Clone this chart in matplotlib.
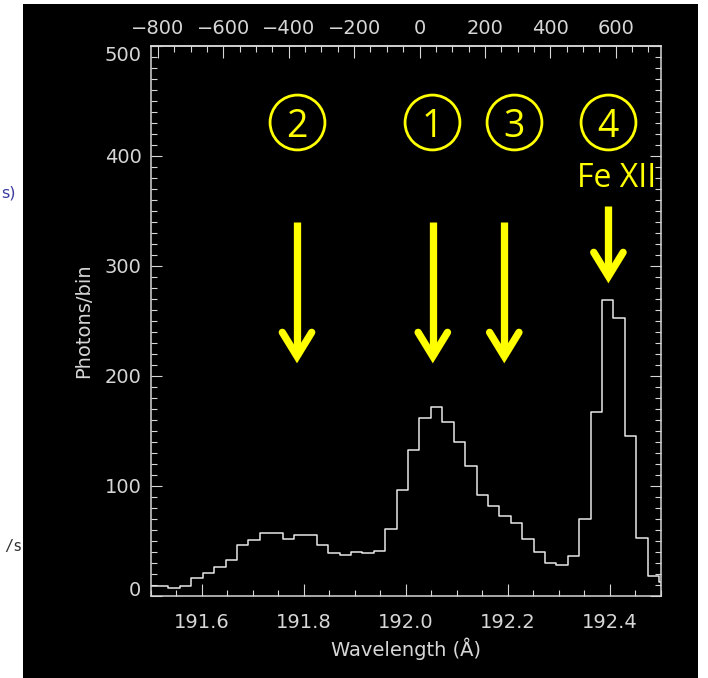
import matplotlib
matplotlib.use("Agg")
import matplotlib.pyplot as plt
import matplotlib.transforms as mtransforms
from matplotlib.patches import Rectangle
from matplotlib.ticker import MultipleLocator
import numpy as np

# EIS spectrum around Fe XII 192.39 A: bin centres (A) and photon counts per bin
wavelength = [191.5017, 191.5240, 191.5464, 191.5687, 191.5911, 191.6134, 191.6358,
              191.6581, 191.6805, 191.7028, 191.7252, 191.7475, 191.7699, 191.7922,
              191.8146, 191.8369, 191.8593, 191.8816, 191.9040, 191.9263, 191.9487,
              191.9710, 191.9934, 192.0157, 192.0381, 192.0604, 192.0828, 192.1051,
              192.1274, 192.1498, 192.1721, 192.1945, 192.2168, 192.2392, 192.2615,
              192.2839, 192.3062, 192.3286, 192.3509, 192.3733, 192.3956, 192.4180,
              192.4403, 192.4627, 192.4850, 192.5074]
photons = [9.5, 9.5, 7.5, 9, 16, 21, 26, 33, 46, 51, 57, 57, 52, 55, 55, 46,
           39, 37, 40, 39, 41, 61, 96, 133, 161.5, 171.5, 158, 140, 118, 92,
           82, 72.7, 66.7, 51.5, 40, 30, 28, 36, 70, 167.5, 268.5, 253, 145,
           53, 18.5, 13]

# Velocity scale on the top axis
LAMBDA0 = 192.027
C_KMS = 299792.458

# Component markers
comp_names = ["2", "1", "3", "4"]
comp_label_wl = [191.786, 192.051, 192.213, 192.396]
comp_label_y = 430.6
arrow_wl = [191.787, 192.053, 192.193, 192.397]
arrow_top = [339.8, 339.8, 339.8, 354.4]
arrow_tip = [211.4, 211.4, 211.4, 284.1]
ion_label = "Fe XII"
ion_label_pos = (192.413, 371.6)

x_ticks = [191.6, 191.8, 192.0, 192.2, 192.4]
x_ticklabels = ["191.6", "191.8", "192.0", "192.2", "192.4"]
y_ticks = [0, 100, 200, 300, 400, 500]

FG = "#d6d6d6"
YEL = "#ffff00"
W, H = 708, 678
DPI = 100

fig = plt.figure(figsize=(W / DPI, H / DPI), dpi=DPI, facecolor="white")
fig.add_artist(Rectangle((23 / W, 0), (698 - 23) / W, (678 - 4) / H,
                         transform=fig.transFigure, fc="black", ec="none", zorder=-5))
fig.text(1 / W, 1 - 193 / H, "s)", ha="left", va="center", color="#3a3aa0",
         fontsize=11.5, family="DejaVu Sans")
fig.text(4 / W, 1 - 547 / H, "/s", ha="left", va="center", color="#333333",
         fontsize=11, family="DejaVu Sans Mono")

ax = fig.add_axes([150.5 / W, 1 - 596 / H, (661 - 150.5) / W, (596 - 45.7) / H])
ax.set_facecolor("black")
ax.set_xlim(191.5, 192.5)
ax.set_ylim(0, 500)

ax.step(wavelength, photons, where="mid", color="#e8e8e8", lw=1.1)

for sp in ax.spines.values():
    sp.set_color(FG)
    sp.set_linewidth(1.1)

tick_font = dict(family="DejaVu Sans", size=14)
ax.set_xticks(x_ticks)
ax.set_xticklabels(x_ticklabels, color=FG, **tick_font)
ax.xaxis.set_minor_locator(MultipleLocator(0.05))
ax.set_yticks(y_ticks)
ax.set_yticklabels([str(v) for v in y_ticks], color=FG, **tick_font)
ax.yaxis.set_minor_locator(MultipleLocator(10))

ax.tick_params(axis="x", which="both", direction="in", top=False, bottom=True,
               colors=FG, width=0.8)
ax.tick_params(axis="x", which="major", length=8.6, pad=12)
ax.tick_params(axis="x", which="minor", length=4.3)
ax.tick_params(axis="y", which="both", direction="in", left=True, right=True,
               colors=FG, width=0.8)
ax.tick_params(axis="y", which="major", length=8.0, pad=6.5)
ax.tick_params(axis="y", which="minor", length=4.3)

ax.set_xlabel("Wavelength (Å)", color=FG, fontsize=14, family="DejaVu Sans", labelpad=4)
ax.set_ylabel("Photons/bin", color=FG, fontsize=14, family="DejaVu Sans", labelpad=8)


def wl_to_v(w):
    return (np.asarray(w) - LAMBDA0) / LAMBDA0 * C_KMS


def v_to_wl(v):
    return LAMBDA0 * (1 + np.asarray(v) / C_KMS)


sec = ax.secondary_xaxis("top", functions=(wl_to_v, v_to_wl))
sec.xaxis.set_major_locator(MultipleLocator(200))
sec.xaxis.set_minor_locator(MultipleLocator(50))
sec.tick_params(which="both", direction="in", colors=FG, width=0.8, labelsize=14)
sec.tick_params(which="major", length=8.6, pad=5.5)
sec.tick_params(which="minor", length=4.3)
for lab in sec.get_xticklabels():
    lab.set_family("DejaVu Sans")
sec.spines["top"].set_color(FG)
sec.spines["top"].set_linewidth(1.1)

# IDL-style: end labels of the y axis pulled inside the frame
yt = ax.yaxis.get_major_ticks()
yt[0].label1.set_transform(yt[0].label1.get_transform() +
                           mtransforms.ScaledTranslation(0, 7 / DPI, fig.dpi_scale_trans))
yt[-1].label1.set_transform(yt[-1].label1.get_transform() +
                            mtransforms.ScaledTranslation(0, -8 / DPI, fig.dpi_scale_trans))

# Circled component numbers
ax.plot(comp_label_wl, [comp_label_y] * len(comp_label_wl), "o", ms=39.5,
        mfc="none", mec=YEL, mew=2.0, clip_on=False, zorder=5)
digit_tr = mtransforms.offset_copy(ax.transData, fig=fig, x=0, y=-14.5, units="dots")
for name, wl in zip(comp_names, comp_label_wl):
    ax.text(wl, comp_label_y, name, transform=digit_tr, ha="center", va="baseline",
            color=YEL, fontsize=27, family="Open Sans", clip_on=False, zorder=6)

ax.text(ion_label_pos[0], ion_label_pos[1], ion_label, ha="center", va="baseline",
        color=YEL, fontsize=23, family="Open Sans", clip_on=False, zorder=6)

# Arrows: shaft plus a chevron head, built in pixel space
to_disp = ax.transData
to_data = ax.transData.inverted()
lw_arrow = 7.3 * 72 / DPI
for wl, top, tip in zip(arrow_wl, arrow_top, arrow_tip):
    tx, ty = to_disp.transform((wl, tip))
    _, sy = to_disp.transform((wl, top))
    vx, vy = tx, ty + 7.0
    shaft = to_data.transform([(tx, sy), (vx, vy)])
    head = to_data.transform([(vx - 14.7, vy + 24), (vx, vy), (vx + 14.7, vy + 24)])
    ax.plot(shaft[:, 0], shaft[:, 1], color=YEL, lw=lw_arrow,
            solid_capstyle="butt", clip_on=False, zorder=5)
    ax.plot(head[:, 0], head[:, 1], color=YEL, lw=lw_arrow,
            solid_capstyle="round", solid_joinstyle="miter", clip_on=False, zorder=5)

fig.savefig("out.png", dpi=DPI, facecolor="white")
